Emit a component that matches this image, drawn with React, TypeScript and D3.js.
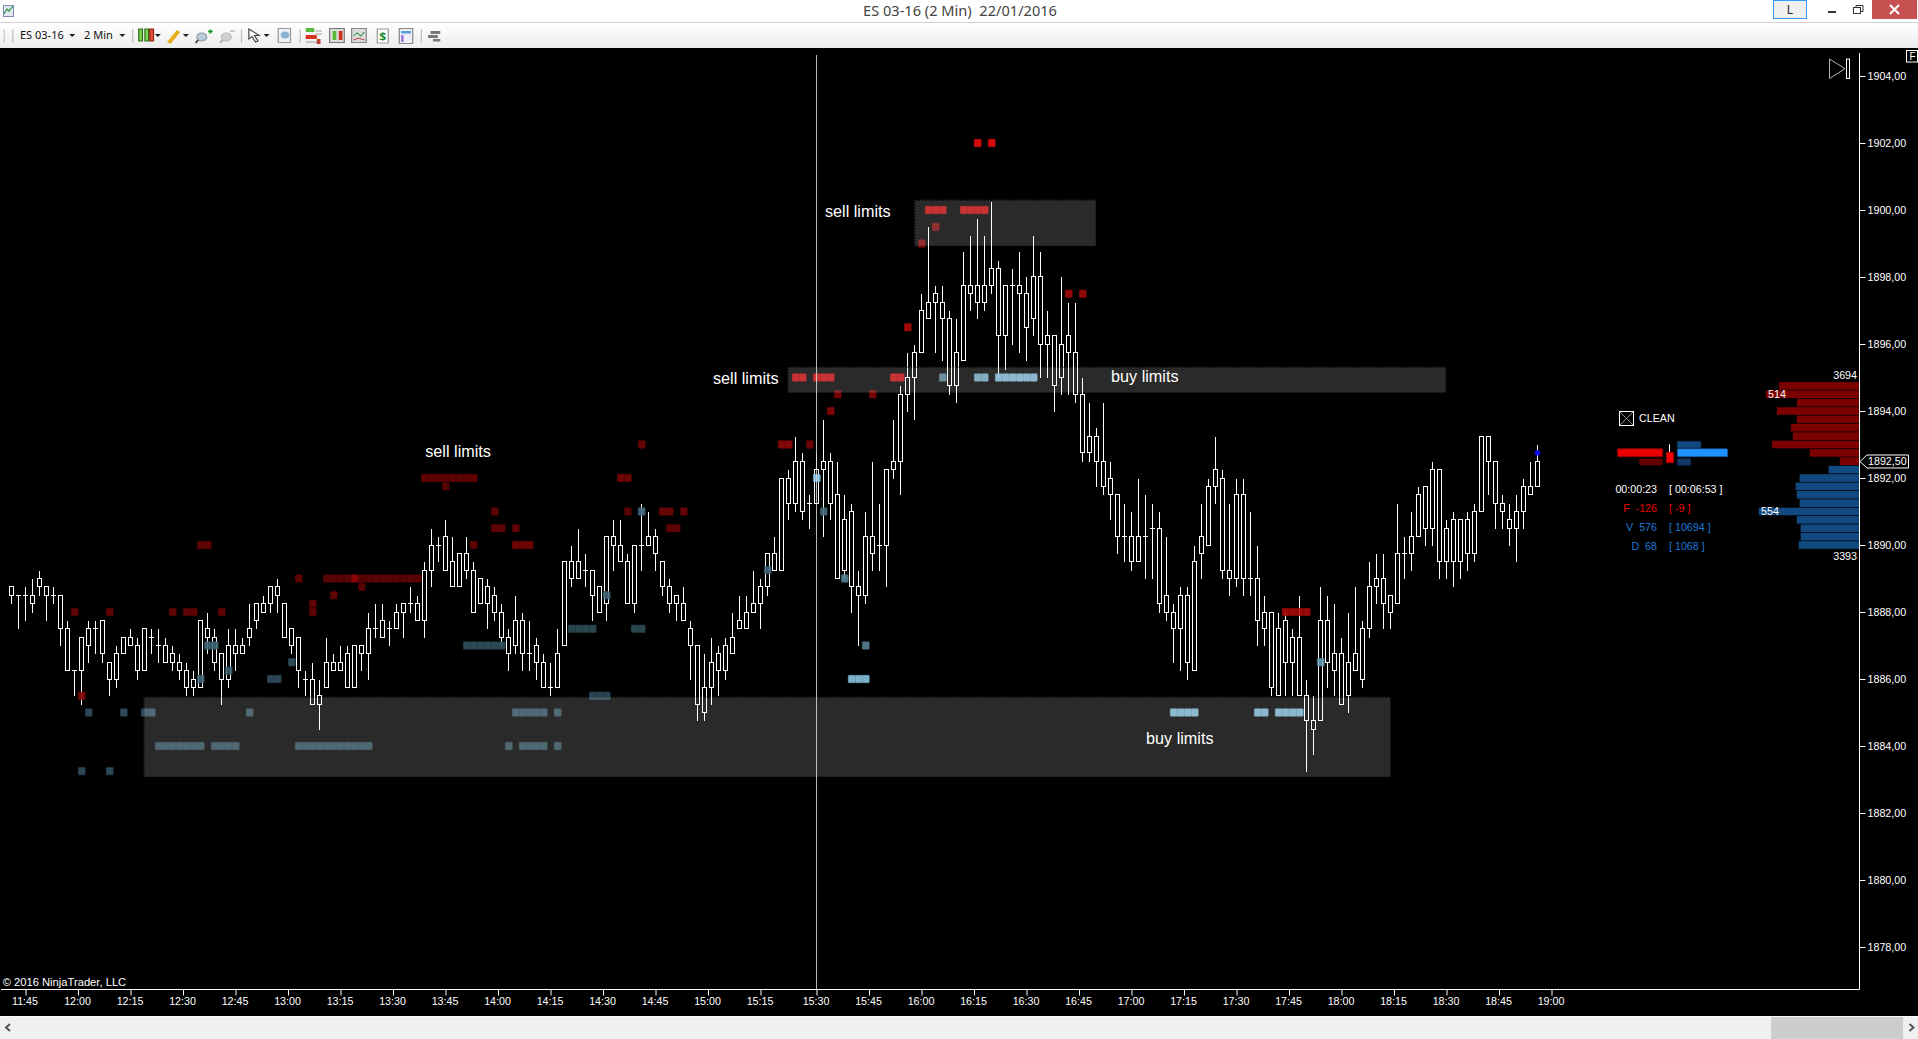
import React, { useEffect, useRef } from "react";
import * as d3 from "d3";

const W = 1918;
const H = 1039;

// one value per 2 minute bar
const highs = [
  1888.75,1888.5,1888.75,1889,1889.25,1888.75,1888.75,1888.5,1887.75,1886.25,
  1887.25,1887.75,1887.75,1887.75,1886.5,1887,1887.25,1887.5,1887.25,1887.5,
  1887.5,1887.5,1887.25,1887,1886.75,1886.5,1886.25,1887.75,1888,1887.5,
  1886.75,1887.5,1887.5,1887.25,1888.25,1888.25,1888.5,1888.75,1889,1888.25,
  1887.5,1887.25,1886.25,1886.5,1886,1887.25,1886.75,1887,1887,1887,
  1887,1888,1888.25,1888.25,1887.75,1888.25,1888.25,1888.75,1888.5,1889.5,
  1890.5,1890.25,1890.75,1890.25,1889.75,1890.25,1889.5,1889,1889,1888.75,
  1888.25,1887.5,1888.5,1888,1887.75,1887.25,1886.75,1886.5,1887.5,1889.5,
  1890,1890.5,1889.75,1889.25,1888.75,1890.25,1890.75,1890.75,1889.75,1890,
  1891.25,1891,1890.5,1889.5,1889,1888.5,1888.75,1887.75,1887,1886.75,
  1887.25,1887,1887.25,1888,1888.5,1888.5,1889.25,1889,1889.75,1890.25,
  1892,1892.25,1893.25,1892.75,1891.5,1892.75,1893.75,1892.75,1892.5,1891.5,
  1891.25,1889.25,1891,1892.5,1891.25,1892.25,1893.75,1894.75,1895.75,1896,
  1897.5,1899.5,1897.75,1897.75,1897,1896.75,1898.75,1899.25,1899.75,1899.25,
  1900.25,1898.5,1897.75,1898.25,1898.75,1898,1899.25,1898.75,1897,1896.25,
  1898,1897.25,1897.25,1895,1894.25,1893.5,1894.25,1892.5,1891.5,1891.25,
  1891,1892,1891.5,1891.25,1891,1890.25,1888.25,1888.75,1888.75,1890,
  1891.25,1892,1893.25,1892.25,1891.25,1892,1892,1891,1890,1888.5,
  1888,1888,1888,1887.5,1888.5,1886,1885.5,1888.75,1888.5,1888.25,
  1887.25,1888,1888.75,1887.75,1889.5,1889.75,1889.75,1888.5,1891.25,1890.25,
  1891,1891.75,1891.75,1892.5,1892.25,1890.75,1891,1890.75,1891,1891.25,
  1893.25,1893.25,1892.5,1891.5,1891.25,1891.5,1892,1892.5,1893,
];
const bodyTops = [
  1888.75,1888.5,1888.5,1888.5,1889,1888.75,1888.5,1888.5,1887.5,1886.25,
  1887.25,1887.5,1887.5,1887.75,1886.5,1886.75,1887.25,1887.25,1887,1887.5,
  1887.25,1887,1887,1886.75,1886.5,1886.25,1886,1887.75,1887.5,1887.25,
  1886.75,1887,1887,1887,1887.5,1888.25,1888.25,1888.75,1888.75,1888.25,
  1887.5,1887.25,1886,1886,1885.5,1886.5,1886.5,1886.5,1886.75,1887,
  1887,1887.5,1887.5,1887.75,1887.5,1888,1888.25,1888.25,1888.25,1889.25,
  1890,1890,1890.25,1889.5,1889.75,1889.75,1889.25,1889,1888.75,1888.5,
  1888,1887.25,1887.75,1887.75,1886.75,1887,1886.5,1885.75,1886.75,1889.5,
  1889.5,1889.5,1889.25,1889.25,1888.75,1890.25,1890.25,1890,1889.5,1890,
  1890,1890.25,1890.25,1889.5,1888.75,1888.5,1888.25,1887.5,1887,1885.75,
  1886.5,1886.75,1887,1887.25,1887.75,1888,1888.25,1888.75,1889.75,1889.75,
  1892,1892,1892.5,1892.5,1891.25,1892.25,1892.5,1892.5,1891.5,1890.75,
  1891,1888.75,1890.25,1890.25,1890,1892.25,1892.5,1894.5,1895,1895.75,
  1897,1897.25,1897.5,1897.25,1896.75,1895.75,1897.75,1897.75,1897.75,1897.75,
  1898.25,1898.25,1897.75,1897.75,1897.75,1897.5,1898,1898,1896.25,1896.25,
  1896,1896.25,1895.75,1894.5,1893.25,1893.25,1892.5,1892,1891.5,1890.25,
  1890.25,1890.25,1890.25,1890.5,1890.5,1888.5,1888,1888.5,1888.5,1889.5,
  1890.25,1891.75,1892.25,1892,1889.25,1891.5,1891.5,1889,1889,1888,
  1888,1887.5,1887.75,1887.25,1887.25,1885.5,1884.75,1887.75,1887.75,1886.75,
  1886.75,1886.5,1886.75,1887.5,1888.75,1889,1889,1888.5,1889.75,1889.75,
  1890.25,1891.5,1891.75,1892.25,1892.25,1890.5,1890.75,1890.75,1890.75,1891,
  1893.25,1893.25,1892.5,1891.25,1890.75,1891,1891.75,1891.75,1892.5,
];
const bodyBottoms = [
  1888.5,1888.5,1888.5,1888.25,1888.75,1888.5,1888.5,1887.5,1886.25,1886.25,
  1886.25,1887,1887.5,1886.75,1886,1886,1886.75,1887,1886.25,1886.25,
  1887.25,1887,1886.5,1886.5,1886.25,1885.75,1885.75,1885.75,1887.25,1886.5,
  1886,1886,1886.75,1886.75,1887.25,1887.75,1888,1888.25,1888.5,1887.25,
  1887,1886.25,1886,1885.25,1885.25,1885.75,1886.25,1886.25,1885.75,1885.75,
  1886.75,1886.75,1887.5,1887.25,1887.5,1887.5,1888,1888.25,1887.75,1887.75,
  1889.25,1890,1889.25,1888.75,1888.75,1889.25,1888,1888.25,1888.25,1888,
  1887.25,1886.75,1887,1886.75,1886.75,1886.5,1885.75,1885.75,1885.75,1887,
  1889,1889,1889.25,1888.5,1888,1888.25,1890,1889.5,1888.25,1888.25,
  1890,1890,1889.75,1888.75,1888.25,1888.25,1887.75,1887,1885.25,1885,
  1885.75,1886.25,1886.25,1886.75,1887.5,1887.5,1888,1888.25,1888.75,1889.25,
  1889.25,1891.25,1891.25,1891,1891.25,1891.25,1892.25,1891.25,1889,1889.25,
  1888.75,1888.5,1888.5,1889.75,1890,1890,1892.25,1892.5,1894.5,1895,
  1895.75,1896.75,1897.25,1896.75,1894.75,1894.75,1895.5,1897.5,1897.25,1897.25,
  1897.75,1896.25,1896.25,1897.75,1897.5,1896.5,1896.75,1896,1896,1894.75,
  1895,1895.75,1894.5,1892.75,1892.75,1892.5,1891.75,1891.5,1890.25,1890.25,
  1889.5,1889.5,1890.25,1890.5,1888.25,1888,1887.5,1887.5,1886.5,1886.25,
  1889.75,1890,1891.75,1889.25,1889,1889,1889,1889,1887.75,1887.5,
  1885.75,1885.5,1886.5,1886.5,1885.5,1884.75,1884.5,1884.75,1886.5,1886.25,
  1885.25,1885.5,1886.25,1886,1887.5,1888.75,1888.25,1888,1888.25,1889.75,
  1889.75,1890.25,1890.5,1890.5,1889.5,1889.5,1889.5,1889.5,1889.75,1889.75,
  1891,1892.5,1891.25,1891,1890.5,1890.5,1891,1891.5,1891.75,
];
const lows = [
  1888.25,1887.5,1887.75,1888,1888.5,1887.75,1888.25,1887,1886.25,1885.5,
  1885.25,1886.5,1886.75,1886.5,1885.5,1885.75,1886.75,1887,1886,1886.25,
  1886.75,1886.5,1886.5,1886.25,1886,1885.5,1885.5,1885.75,1886.75,1886.25,
  1885.25,1885.75,1886.25,1886.75,1887,1887.5,1888,1888,1888,1887.25,
  1886.75,1885.75,1885.5,1885.25,1884.5,1885.75,1886.25,1886.25,1885.75,1885.75,
  1886.25,1886,1887.25,1887.25,1887,1887.5,1887.25,1888,1887.75,1887.25,
  1888.75,1889.5,1889.25,1888.75,1888.75,1889,1888,1888.25,1887.5,1887.75,
  1887,1886.25,1886.75,1886.25,1886.25,1886,1885.75,1885.5,1885.75,1887,
  1888.75,1889,1888.75,1887.75,1888,1887.75,1889.25,1889.5,1888.25,1888,
  1889.25,1890,1889.25,1888.5,1888,1887.75,1887.75,1886,1884.75,1884.75,
  1885.25,1885.5,1886,1886.75,1887.5,1887.5,1888,1887.5,1888.5,1889.25,
  1889.25,1890.75,1891,1890.75,1890.5,1891.25,1890.25,1890.75,1889,1889,
  1888,1887,1888.25,1889.25,1889.25,1888.75,1892,1891.5,1894,1893.75,
  1895.75,1896.75,1895.75,1895.5,1894.5,1894.25,1895.5,1897,1896.75,1897,
  1897.5,1895,1895.25,1896,1895.75,1895.5,1896.25,1895,1895,1894,
  1894.5,1894.5,1894.25,1892.5,1892.5,1891.75,1891.5,1890.75,1889.75,1889.5,
  1889.25,1889.5,1889,1889,1888,1887.75,1886.5,1886.25,1886,1886.25,
  1889,1890,1891.25,1889,1888.5,1888.75,1888.5,1888.5,1887,1887,
  1885.5,1885.5,1885.5,1885.5,1885.5,1883.25,1883.75,1884.75,1885.75,1885.5,
  1885.25,1885,1886.25,1885.75,1887.25,1888.25,1887.5,1887.5,1888.25,1889,
  1889.25,1890.25,1890,1890,1889,1889,1888.75,1889,1889.25,1889.5,
  1891,1891.5,1890.5,1890.5,1890,1889.5,1890.5,1891.5,1891.75,
];

// resting orders: [first bar, number of bars, price, strength 0..1]
type OrderRun = [number, number, number, number];
const sellOrders: OrderRun[] = [
  [27,2,1890,.2],[9,1,1888,.2],[14,1,1888,.2],[23,1,1888,.2],[25,2,1888,.2],[30,1,1888,.2],
  [41,1,1889,.2],[45,14,1889,.15],[49,1,1889,.4],[50,1,1888.75,.15],[46,1,1888.5,.2],
  [43,1,1888.25,.2],[43,1,1888,.2],[10,1,1885.5,.35],
  [90,1,1893,.25],[110,2,1893,.45],[114,1,1893,.3],[59,8,1892,.2],[62,1,1891.75,.15],
  [87,2,1892,.3],[69,1,1891,.2],[88,1,1891,.15],[93,2,1891,.25],[96,1,1891,.25],
  [69,2,1890.5,.2],[72,1,1890.5,.2],[94,2,1890.5,.2],[66,1,1890,.2],[72,3,1890,.3],
  [138,1,1902,1],[140,1,1902,1],[131,3,1900,.85],[136,4,1900,.85],[132,1,1899.5,.4],
  [130,1,1899,.4],[151,1,1897.5,.55],[153,1,1897.5,.55],[128,1,1896.5,.65],
  [112,2,1895,.85],[115,3,1895,.85],[126,2,1895,.85],[118,1,1894.5,.35],[123,1,1894.5,.35],
  [117,1,1894,.4],[182,4,1888,.6],
];
const buyOrders: OrderRun[] = [
  [11,1,1885,.1],[16,1,1885,.1],[19,2,1885,.15],[34,1,1885,.15],[21,7,1884,.12],[29,4,1884,.12],
  [41,11,1884,.12],[10,1,1883.25,.1],[14,1,1883.25,.1],[28,2,1887,.25],[31,1,1886.25,.2],
  [27,1,1886,.25],[40,1,1886.5,.1],[37,2,1886,.1],
  [90,1,1891,.3],[115,1,1892,1],[116,1,1891,.3],[108,1,1889.25,.25],[85,1,1888.5,.25],
  [65,6,1887,.1],[80,4,1887.5,.07],[89,2,1887.5,.07],[83,3,1885.5,.08],[72,5,1885,.15],
  [78,1,1885,.15],[71,1,1884,.12],[73,4,1884,.12],[78,1,1884,.12],
  [133,1,1895,.5],[138,2,1895,.8],[141,6,1895,.9],[119,1,1889,.45],[122,1,1887,.45],
  [120,3,1886,.95],[187,1,1886.5,.65],[166,4,1885,.9],[178,2,1885,.9],[181,4,1885,.9],
];

// shaded zones: [first bar, last bar, top price, bottom price]
const zones = [
  [129.1, 154.9, 1900.28, 1898.93],
  [111, 204.9, 1895.29, 1894.55],
  [19, 197, 1885.44, 1883.08],
];
const noteLabels = ["sell limits", "sell limits", "sell limits", "buy limits", "buy limits"];
const noteBars = [63.8, 104.9, 120.9, 161.9, 166.9];
const notePrices = [1892.62, 1894.82, 1899.78, 1894.86, 1884.05];

const priceTicks = d3.range(1878, 1905, 2);
const timeLabels = [
  "11:45","12:00","12:15","12:30","12:45","13:00","13:15","13:30","13:45","14:00",
  "14:15","14:30","14:45","15:00","15:15","15:30","15:45","16:00","16:15","16:30",
  "16:45","17:00","17:15","17:30","17:45","18:00","18:15","18:30","18:45","19:00",
];
const timeBars = [
  2,9.5,17,24.5,32,39.5,47,54.5,62,69.5,
  77,84.5,92,99.5,107,115,122.5,130,137.5,145,
  152.5,160,167.5,175,182.5,190,197.5,205,212.5,220,
];

// volume profile on the right edge
const askPrices = [1894.75,1894.5,1894.25,1894,1893.75,1893.5,1893.25,1893,1892.75,1892.5];
const askVolumes = [442,514,343,453,343,376,365,481,272,106];
const bidPrices = [1892.25,1892,1891.75,1891.5,1891.25,1891,1890.75,1890.5,1890.25,1890];
const bidVolumes = [168,328,350,344,328,554,344,322,322,333];

const flowSell = [135, 70];
const flowBuy = [70, 150, 40];

const CURSOR_BAR = 115;
const LAST_PRICE = 1892.5;
const CHART_FONT = "'Liberation Sans', Arial, sans-serif";
const UI_FONT = "'Noto Sans', sans-serif";

const App: React.FC = () => {
  const ref = useRef<SVGSVGElement | null>(null);

  useEffect(() => {
    if (!ref.current) return;
    const svg = d3.select(ref.current);
    svg.selectAll("*").remove();

    // Scales
    const x = d3.scaleLinear().domain([0, 218]).range([11.5, 11.5 + 7 * 218]);
    const y = d3.scaleLinear().domain([1904, 1878]).range([76, 947]);
    const axisX = 1859.5;
    const axisY = 989.5;
    const snap = (v: number) => Math.round(v - 0.5) + 0.5;

    // Window background
    svg.append("rect").attr("width", W).attr("height", H).attr("fill", "#000");
    drawChrome(svg);

    const chart = svg.append("g");

    // Candles
    const candles = chart.append("g").style("shape-rendering", "crispEdges");
    highs.forEach((high, i) => {
      const cx = snap(x(i));
      const top = snap(y(bodyTops[i]));
      const bottom = snap(y(bodyBottoms[i]));
      candles.append("line")
        .attr("x1", cx).attr("x2", cx)
        .attr("y1", snap(y(high))).attr("y2", snap(y(lows[i])))
        .attr("stroke", "#fff");
      if (top === bottom) {
        candles.append("line")
          .attr("x1", cx - 2.5).attr("x2", cx + 2.5)
          .attr("y1", top).attr("y2", top)
          .attr("stroke", "#fff");
      } else {
        candles.append("rect")
          .attr("x", cx - 2).attr("y", top)
          .attr("width", 4).attr("height", bottom - top)
          .attr("fill", "#000").attr("stroke", "#fff");
      }
    });

    // Resting order cells
    const sellColor = d3.scaleLinear<string>().domain([0, 1]).range(["#4a0303", "#f20d0d"]);
    const buyColor = d3.scaleLinear<string>().domain([0, 1]).range(["#284450", "#90d2f2"]);
    const drawOrders = (runs: OrderRun[], color: d3.ScaleLinear<string, string>) => {
      runs.forEach(([start, count, price, strength]) => {
        d3.range(count).forEach((k) => {
          const fill = color(strength);
          chart.append("rect")
            .attr("x", snap(x(start + k)) - 3.2)
            .attr("y", y(price) - 3.7)
            .attr("width", 6.9)
            .attr("height", 7.4)
            .attr("rx", 0.6)
            .attr("fill", fill)
            .attr("fill-opacity", 0.88)
            .attr("stroke", d3.color(fill)!.darker(0.6).formatHex())
            .attr("stroke-width", 0.6);
        });
      });
    };
    drawOrders(sellOrders, sellColor);
    drawOrders(buyOrders, buyColor);

    // Zones go over candles and cells, a thin white veil like the original
    zones.forEach(([b0, b1, p0, p1]) => {
      chart.append("rect")
        .attr("x", x(b0)).attr("y", y(p0))
        .attr("width", x(b1) - x(b0)).attr("height", y(p1) - y(p0))
        .attr("fill", "#fff").attr("fill-opacity", 0.165);
      chart.append("path")
        .attr("d", `M${x(b0) - 0.5},${y(p1)}V${y(p0) - 0.5}H${x(b1)}`)
        .attr("fill", "none").attr("stroke", "#4a4a4a")
        .attr("stroke-dasharray", "1,2");
    });

    // Last trade dot
    chart.append("circle")
      .attr("cx", snap(x(218)))
      .attr("cy", y(1892.75))
      .attr("r", 2.7)
      .attr("fill", "#0a0aff");

    // Cursor line
    chart.append("line")
      .attr("x1", snap(x(CURSOR_BAR))).attr("x2", snap(x(CURSOR_BAR)))
      .attr("y1", 55).attr("y2", axisY)
      .attr("stroke", "#d8d8d8").attr("stroke-opacity", 0.85);

    // Notes
    chart.selectAll("text.note")
      .data(noteLabels)
      .join("text")
      .attr("class", "note")
      .attr("x", (_, i) => x(noteBars[i]))
      .attr("y", (_, i) => y(notePrices[i]))
      .attr("text-anchor", "middle")
      .attr("fill", "#fff")
      .style("font", `16.2px ${CHART_FONT}`)
      .text((d) => d);

    // Volume profile
    const vol = d3.scaleLinear().domain([0, 554]).range([0, 100.3]);
    const drawProfile = (prices: number[], volumes: number[], fill: string) => {
      prices.forEach((price, i) => {
        chart.append("rect")
          .attr("x", axisX - 0.5 - vol(volumes[i]))
          .attr("y", y(price) - 3.8)
          .attr("width", vol(volumes[i]))
          .attr("height", 7.6)
          .attr("fill", fill);
      });
    };
    drawProfile(askPrices, askVolumes, "#7c0000");
    drawProfile(bidPrices, bidVolumes, "#114a80");

    const smallText = (
      text: string, tx: number, ty: number, fill = "#fff",
      anchor = "start", size = 10.7,
    ) =>
      chart.append("text")
        .attr("x", tx).attr("y", ty)
        .attr("dy", "0.36em")
        .attr("text-anchor", anchor)
        .attr("fill", fill)
        .style("font", `${size}px ${CHART_FONT}`)
        .style("white-space", "pre")
        .text(text);

    smallText("3694", 1857, 375, "#fff", "end");
    smallText("3393", 1857, 556, "#fff", "end");
    smallText("514", 1768, 394);
    smallText("554", 1761, 511);

    // CLEAN box
    chart.append("rect")
      .attr("x", 1619.5).attr("y", 411.5).attr("width", 14).attr("height", 14)
      .attr("fill", "none").attr("stroke", "#fff");
    chart.append("path")
      .attr("d", "M1620,412L1633,425M1633,412L1620,425")
      .attr("stroke", "#aaa").attr("stroke-width", 0.8);
    smallText("CLEAN", 1639, 417.7);

    // Order flow bars
    const flow = d3.scaleLinear().domain([0, 150]).range([0, 50.4]);
    const flowBar = (bx: number, by: number, bw: number, bh: number, fill: string, stroke: string) =>
      chart.append("rect")
        .attr("x", bx).attr("y", by).attr("width", bw).attr("height", bh)
        .attr("rx", 0.8).attr("fill", fill).attr("stroke", stroke).attr("stroke-width", 0.7);
    flowBar(1662.7 - flow(flowSell[0]), 448.7, flow(flowSell[0]), 8, "#e80000", "#8a0000");
    flowBar(1662.7 - flow(flowSell[1]), 458.7, flow(flowSell[1]), 6.6, "#640000", "#3a0000");
    flowBar(1677.3, 441.3, flow(flowBuy[0]), 6.6, "#124a80", "#0c3460");
    flowBar(1677.3, 448.7, flow(flowBuy[1]), 8, "#1e90ff", "#124a80");
    flowBar(1677.3, 458.7, flow(flowBuy[2]), 6.6, "#123a66", "#0c2a50");
    chart.append("line")
      .attr("x1", 1669.5).attr("x2", 1669.5).attr("y1", 444.3).attr("y2", 452.3)
      .attr("stroke", "#fff");
    flowBar(1666.3, 452.3, 7.4, 10.4, "#f00000", "#a00000");

    // Session stats
    smallText("00:00:23", 1657, 489, "#fff", "end");
    smallText("[ 00:06:53 ]", 1669, 489);
    smallText("F  -126", 1657, 508, "#e80000", "end");
    smallText("[ -9 ]", 1669, 508, "#e80000");
    smallText("V  576", 1657, 527.3, "#1e78d8", "end");
    smallText("[ 10694 ]", 1669, 527.3, "#1e78d8");
    smallText("D  68", 1657, 546.3, "#1e78d8", "end");
    smallText("[ 1068 ]", 1669, 546.3, "#1e78d8");

    // Axes
    const priceAxis = d3.axisRight(y)
      .tickValues(priceTicks)
      .tickSize(6)
      .tickPadding(2)
      .tickFormat((d) => (d as number).toFixed(2).replace(".", ","));
    const priceG = chart.append("g")
      .attr("transform", `translate(${axisX},0)`)
      .call(priceAxis);
    priceG.select(".domain").remove();
    priceG.selectAll("line").attr("stroke", "#fff");
    priceG.selectAll("text").attr("fill", "#fff").attr("dy", "0.3em").style("font", `10.7px ${CHART_FONT}`);

    const timeAxis = d3.axisBottom(x)
      .tickValues(timeBars)
      .tickSize(6)
      .tickPadding(2)
      .tickFormat((_, i) => timeLabels[i]);
    const timeG = chart.append("g")
      .attr("transform", `translate(0,${axisY})`)
      .call(timeAxis);
    timeG.select(".domain").remove();
    timeG.selectAll("line").attr("stroke", "#fff");
    timeG.selectAll("text").attr("fill", "#fff").attr("dx", -1).style("font", `10.7px ${CHART_FONT}`);

    chart.append("path")
      .attr("d", `M1,${axisY}H${axisX}V53`)
      .attr("fill", "none").attr("stroke", "#fff");

    // Last price tag
    const lastY = y(LAST_PRICE);
    chart.append("path")
      .attr("d", `M${axisX + 7.5},${snap(lastY) - 6.5}H1908.5V${snap(lastY) + 6.5}H${axisX + 7.5}L${axisX + 0.5},${snap(lastY)}Z`)
      .attr("fill", "#000").attr("stroke", "#fff");
    smallText(LAST_PRICE.toFixed(2).replace(".", ","), 1868, lastY);

    smallText("\u00a9 2016 NinjaTrader, LLC", 2.7, 982, "#fff", "start", 11.2);

    // Jump to end button and F box
    chart.append("path")
      .attr("d", "M1829.5,59V78.5L1845,68.7Z")
      .attr("fill", "none").attr("stroke", "#b4b4b4");
    chart.append("rect")
      .attr("x", 1846.5).attr("y", 59).attr("width", 3).attr("height", 19.5)
      .attr("fill", "none").attr("stroke", "#fff");
    chart.append("rect")
      .attr("x", 1906.5).attr("y", 50.5).attr("width", 11).attr("height", 11.5)
      .attr("fill", "#000").attr("stroke", "#fff");
    smallText("F", 1909.5, 56.5, "#fff", "start", 10);
  }, []);

  return (
    <svg
      ref={ref}
      width={W}
      height={H}
      style={{ position: "fixed", left: 0, top: 0, display: "block" }}
    />
  );
};

// Title bar, toolbar and scroll bar around the chart
function drawChrome(svg: d3.Selection<SVGSVGElement, unknown, null, undefined>) {
  const grad = svg.append("defs").append("linearGradient")
    .attr("id", "toolbarFill").attr("x1", 0).attr("x2", 0).attr("y1", 0).attr("y2", 1);
  grad.append("stop").attr("offset", "0%").attr("stop-color", "#ffffff");
  grad.append("stop").attr("offset", "100%").attr("stop-color", "#ececec");

  const root = svg.append("g");
  let g: any = root;
  const rect = (rx: number, ry: number, rw: number, rh: number, fill: string, stroke = "none") =>
    g.append("rect").attr("x", rx).attr("y", ry).attr("width", rw).attr("height", rh)
      .attr("fill", fill).attr("stroke", stroke);
  const line = (d: string, stroke: string, sw = 1) =>
    g.append("path").attr("d", d).attr("fill", "none").attr("stroke", stroke).attr("stroke-width", sw);
  const caret = (cx: number) =>
    g.append("path").attr("d", `M${cx - 2.5},34H${cx + 2.5}L${cx},37Z`).attr("fill", "#222");
  const sep = (sx: number) => line(`M${sx + 0.5},29V43`, "#bdbdbd");

  rect(0, 0, W, 22, "#fff");
  rect(0, 22, W, 1, "#d2d2d2");
  rect(0, 23, W, 25, "url(#toolbarFill)");

  // App icon
  rect(3.5, 5.5, 10, 11, "#e4e8f4", "#7d8fb5");
  line("M4,14L7,9L9,11L13,6", "#2e9a3c", 1.2);

  // Title
  g.append("text")
    .attr("x", 960).attr("y", 16)
    .attr("text-anchor", "middle")
    .attr("fill", "#444")
    .style("font", `14.6px ${UI_FONT}`)
    .style("white-space", "pre")
    .text("ES 03-16 (2 Min)  22/01/2016");

  // Window buttons
  rect(1773.5, 0.5, 33, 18, "#efefef", "#3399ff");
  g.append("text").attr("x", 1790).attr("y", 13.5).attr("text-anchor", "middle")
    .attr("fill", "#222").style("font", `12px ${UI_FONT}`).text("L");
  rect(1828, 11, 8, 2, "#333");
  rect(1853.5, 7.5, 7, 6, "none", "#333");
  line("M1856,7V5.5H1863V11.5H1861", "#333");
  rect(1872, 0, 45, 19, "#c75050");
  line("M1890,5L1899,14M1899,5L1890,14", "#fff", 2);

  // Toolbar labels
  const label = (t: string, tx: number) =>
    g.append("text").attr("x", tx).attr("y", 38.5).attr("fill", "#111")
      .style("font", `11px ${UI_FONT}`).text(t);
  label("ES 03-16", 20);
  label("2 Min", 84);

  // Toolbar icons, laid out on a slightly narrower grid and stretched to fit
  g = root.append("g").attr("transform", "scale(1.223,1)");
  line("M3.5,29V43", "#c8c8c8");
  sep(10);
  caret(59);
  caret(100);
  sep(108);
  // candle style
  rect(113.5, 29, 3, 12, "#7ed84a", "#2c6a18");
  rect(118.5, 29, 3, 12, "#7ed84a", "#2c6a18");
  rect(122.5, 29, 3, 12, "#e85040", "#8a2010");
  caret(129);
  // pencil
  line("M138,43L146,31", "#e8b020", 3.5);
  caret(152);
  // zoom in and out
  g.append("circle").attr("cx", 165).attr("cy", 37).attr("r", 4).attr("fill", "#b8ccd8").attr("stroke", "#8a9aa6");
  line("M162,40L160,43", "#444", 1.5);
  line("M170,31.5H174M172,29.5V33.5", "#18a028", 1.6);
  g.append("circle").attr("cx", 185).attr("cy", 37).attr("r", 4).attr("fill", "#d0d0d0").attr("stroke", "#bbb");
  line("M182,40L180,43", "#aaa", 1.5);
  line("M188,31H192", "#bbb", 1.5);
  sep(197);
  // pointer
  g.append("path").attr("d", "M203.5,29V39L206,36.5L209,42L211,41L208,35.5H212Z")
    .attr("fill", "#fff").attr("stroke", "#444");
  caret(218);
  rect(227.5, 28.5, 10, 14, "#eef2f6", "#999");
  g.append("circle").attr("cx", 233).attr("cy", 35).attr("r", 3.5).attr("fill", "#8fb4d2");
  sep(245);
  // indicators
  rect(250, 28, 7, 4, "#58b838");
  rect(250, 35, 9, 4, "#d83020");
  line("M250,42H262M258,31H263M258,34H263", "#999");
  rect(259, 39, 3, 5, "#c04030");
  rect(269.5, 28.5, 12, 14, "#dcdcdc", "#777");
  rect(272, 31, 3, 9, "#58b838");
  rect(277, 31, 3, 9, "#c83020");
  rect(287.5, 28.5, 12, 14, "#dcdcdc", "#888");
  line("M289,36L292,33L295,36L298,32", "#3a9a50");
  line("M289,40L293,38L298,40", "#c05050");
  rect(308.5, 29, 9, 14, "#fff", "#999");
  g.append("text").attr("x", 313).attr("y", 40).attr("text-anchor", "middle")
    .attr("fill", "#1a8a30").style("font", `bold 10px ${UI_FONT}`).text("$");
  rect(326.5, 28.5, 11, 15, "#eef0f6", "#888");
  rect(328, 31, 8, 2.5, "#5a9ed8");
  rect(328, 35, 2, 7, "#a070e0");
  sep(344);
  rect(352, 31, 8, 3, "#777");
  rect(350, 35, 8, 3, "#777");
  rect(354, 39, 6, 2.5, "#777");

  // Scroll bar
  g = root;
  rect(0, 1016, W, 1, "#fafafa");
  rect(0, 1017, W, 22, "#f0f0f0");
  rect(1771, 1017, 132, 22, "#cdcdcd");
  line("M10,1024L6,1027.5L10,1031", "#555", 2);
  line("M1909.5,1024L1913.5,1027.5L1909.5,1031", "#555", 2);
}

export default App;
